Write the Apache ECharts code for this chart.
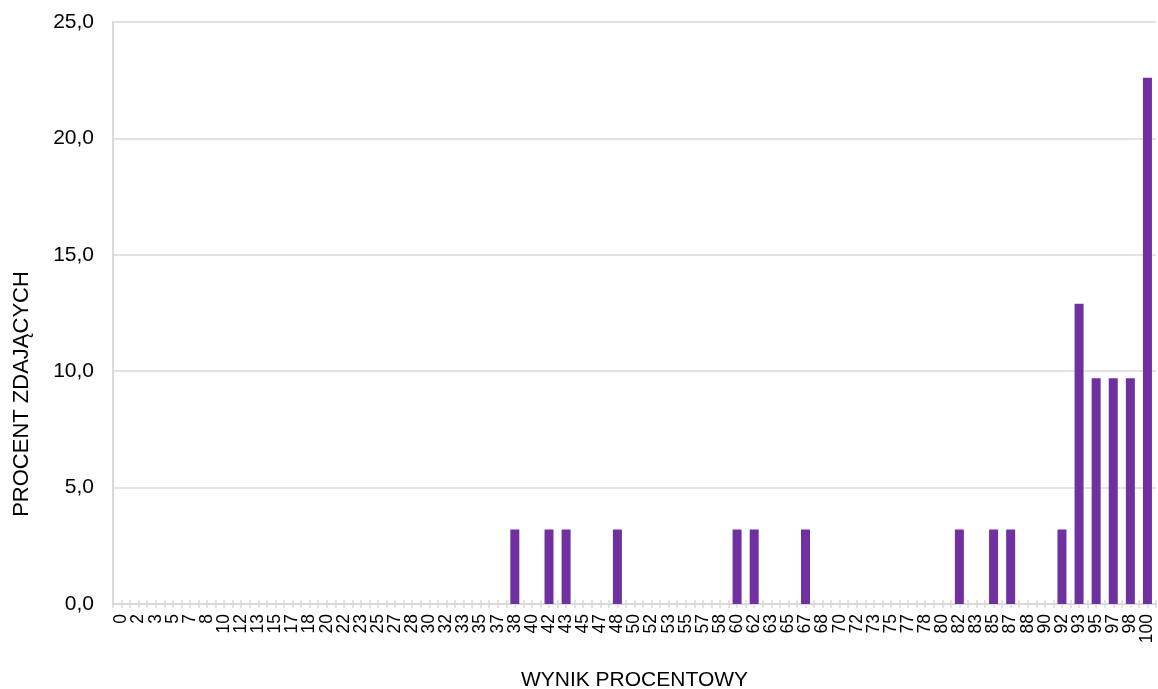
<!DOCTYPE html>
<html>
<head>
<meta charset="utf-8">
<script src="https://cdn.jsdelivr.net/npm/echarts@6/dist/echarts.min.js"></script>
<style>html,body{margin:0;padding:0;background:#fff}#c{width:1158px;height:689px}</style>
</head>
<body>
<div id="c"></div>
<script>
const categories = ['0','2','3','5','7','8','10','12','13','15','17','18','20','22','23','25','27','28','30','32','33','35','37','38','40','42','43','45','47','48','50','52','53','55','57','58','60','62','63','65','67','68','70','72','73','75','77','78','80','82','83','85','87','88','90','92','93','95','97','98','100'];
const barCategories = ['38','42','43','48','60','62','67','82','85','87','92','93','95','97','98','100'];
const barValues = [3.2,3.2,3.2,3.2,3.2,3.2,3.2,3.2,3.2,3.2,3.2,12.9,9.7,9.7,9.7,22.6];
const yTicks = [0,5,10,15,20,25];

const values = categories.map(c => {
  const i = barCategories.indexOf(c);
  return i >= 0 ? barValues[i] : 0;
});

const FONT = 'Liberation Sans, Arial, sans-serif';
const gray = '#d9d9d9';
function tickAxis(align, inside) {
  return {
    type: 'category', data: categories, position: 'bottom',
    axisLine: {show: false},
    axisTick: {show: true, interval: 0, alignWithLabel: align, inside: inside, length: 4, lineStyle: {color: gray, width: 1.5}},
    axisLabel: {show: false}, splitLine: {show: false}
  };
}
const chart = echarts.init(document.getElementById('c'));
chart.setOption({
  animation: false,
  grid: {left: 113, right: 2, top: 22, bottom: 85, containLabel: false, outerBoundsMode: 'none'},
  xAxis: [
    {
      type: 'category', data: categories, position: 'bottom',
      name: 'WYNIK PROCENTOWY', nameLocation: 'middle', nameGap: 66,
      nameTextStyle: {fontFamily: FONT, fontSize: 21, color: '#000'},
      axisLine: {show: true, lineStyle: {color: gray, width: 2}},
      axisTick: {show: true, interval: 0, alignWithLabel: false, length: 4, lineStyle: {color: gray, width: 1.5}},
      axisLabel: {interval: 0, rotate: 90, fontFamily: FONT, fontSize: 17.5, color: '#000', margin: 10},
      splitLine: {show: false}
    },
    tickAxis(true, false),
    tickAxis(false, true),
    tickAxis(true, true)
  ],
  yAxis: {
    type: 'value', min: 0, max: 25, interval: 5,
    axisLine: {show: true, lineStyle: {color: gray, width: 2}},
    axisTick: {show: false},
    axisLabel: {fontFamily: FONT, fontSize: 21, color: '#000', margin: 19,
      formatter: v => yTicks.includes(v) ? v.toFixed(1).replace('.', ',') : ''},
    splitLine: {show: true, lineStyle: {color: gray, width: 1.5}}
  },
  graphic: [{
    type: 'text',
    x: 22, y: 394,
    rotation: Math.PI / 2,
    style: {text: 'PROCENT ZDAJĄCYCH', fontFamily: FONT, fontSize: 22, fill: '#000', align: 'center', verticalAlign: 'middle'}
  }],
  series: [{
    type: 'bar', data: values, barWidth: 9, xAxisIndex: 0,
    itemStyle: {color: '#7030A0'}
  }]
});
</script>
</body>
</html>
